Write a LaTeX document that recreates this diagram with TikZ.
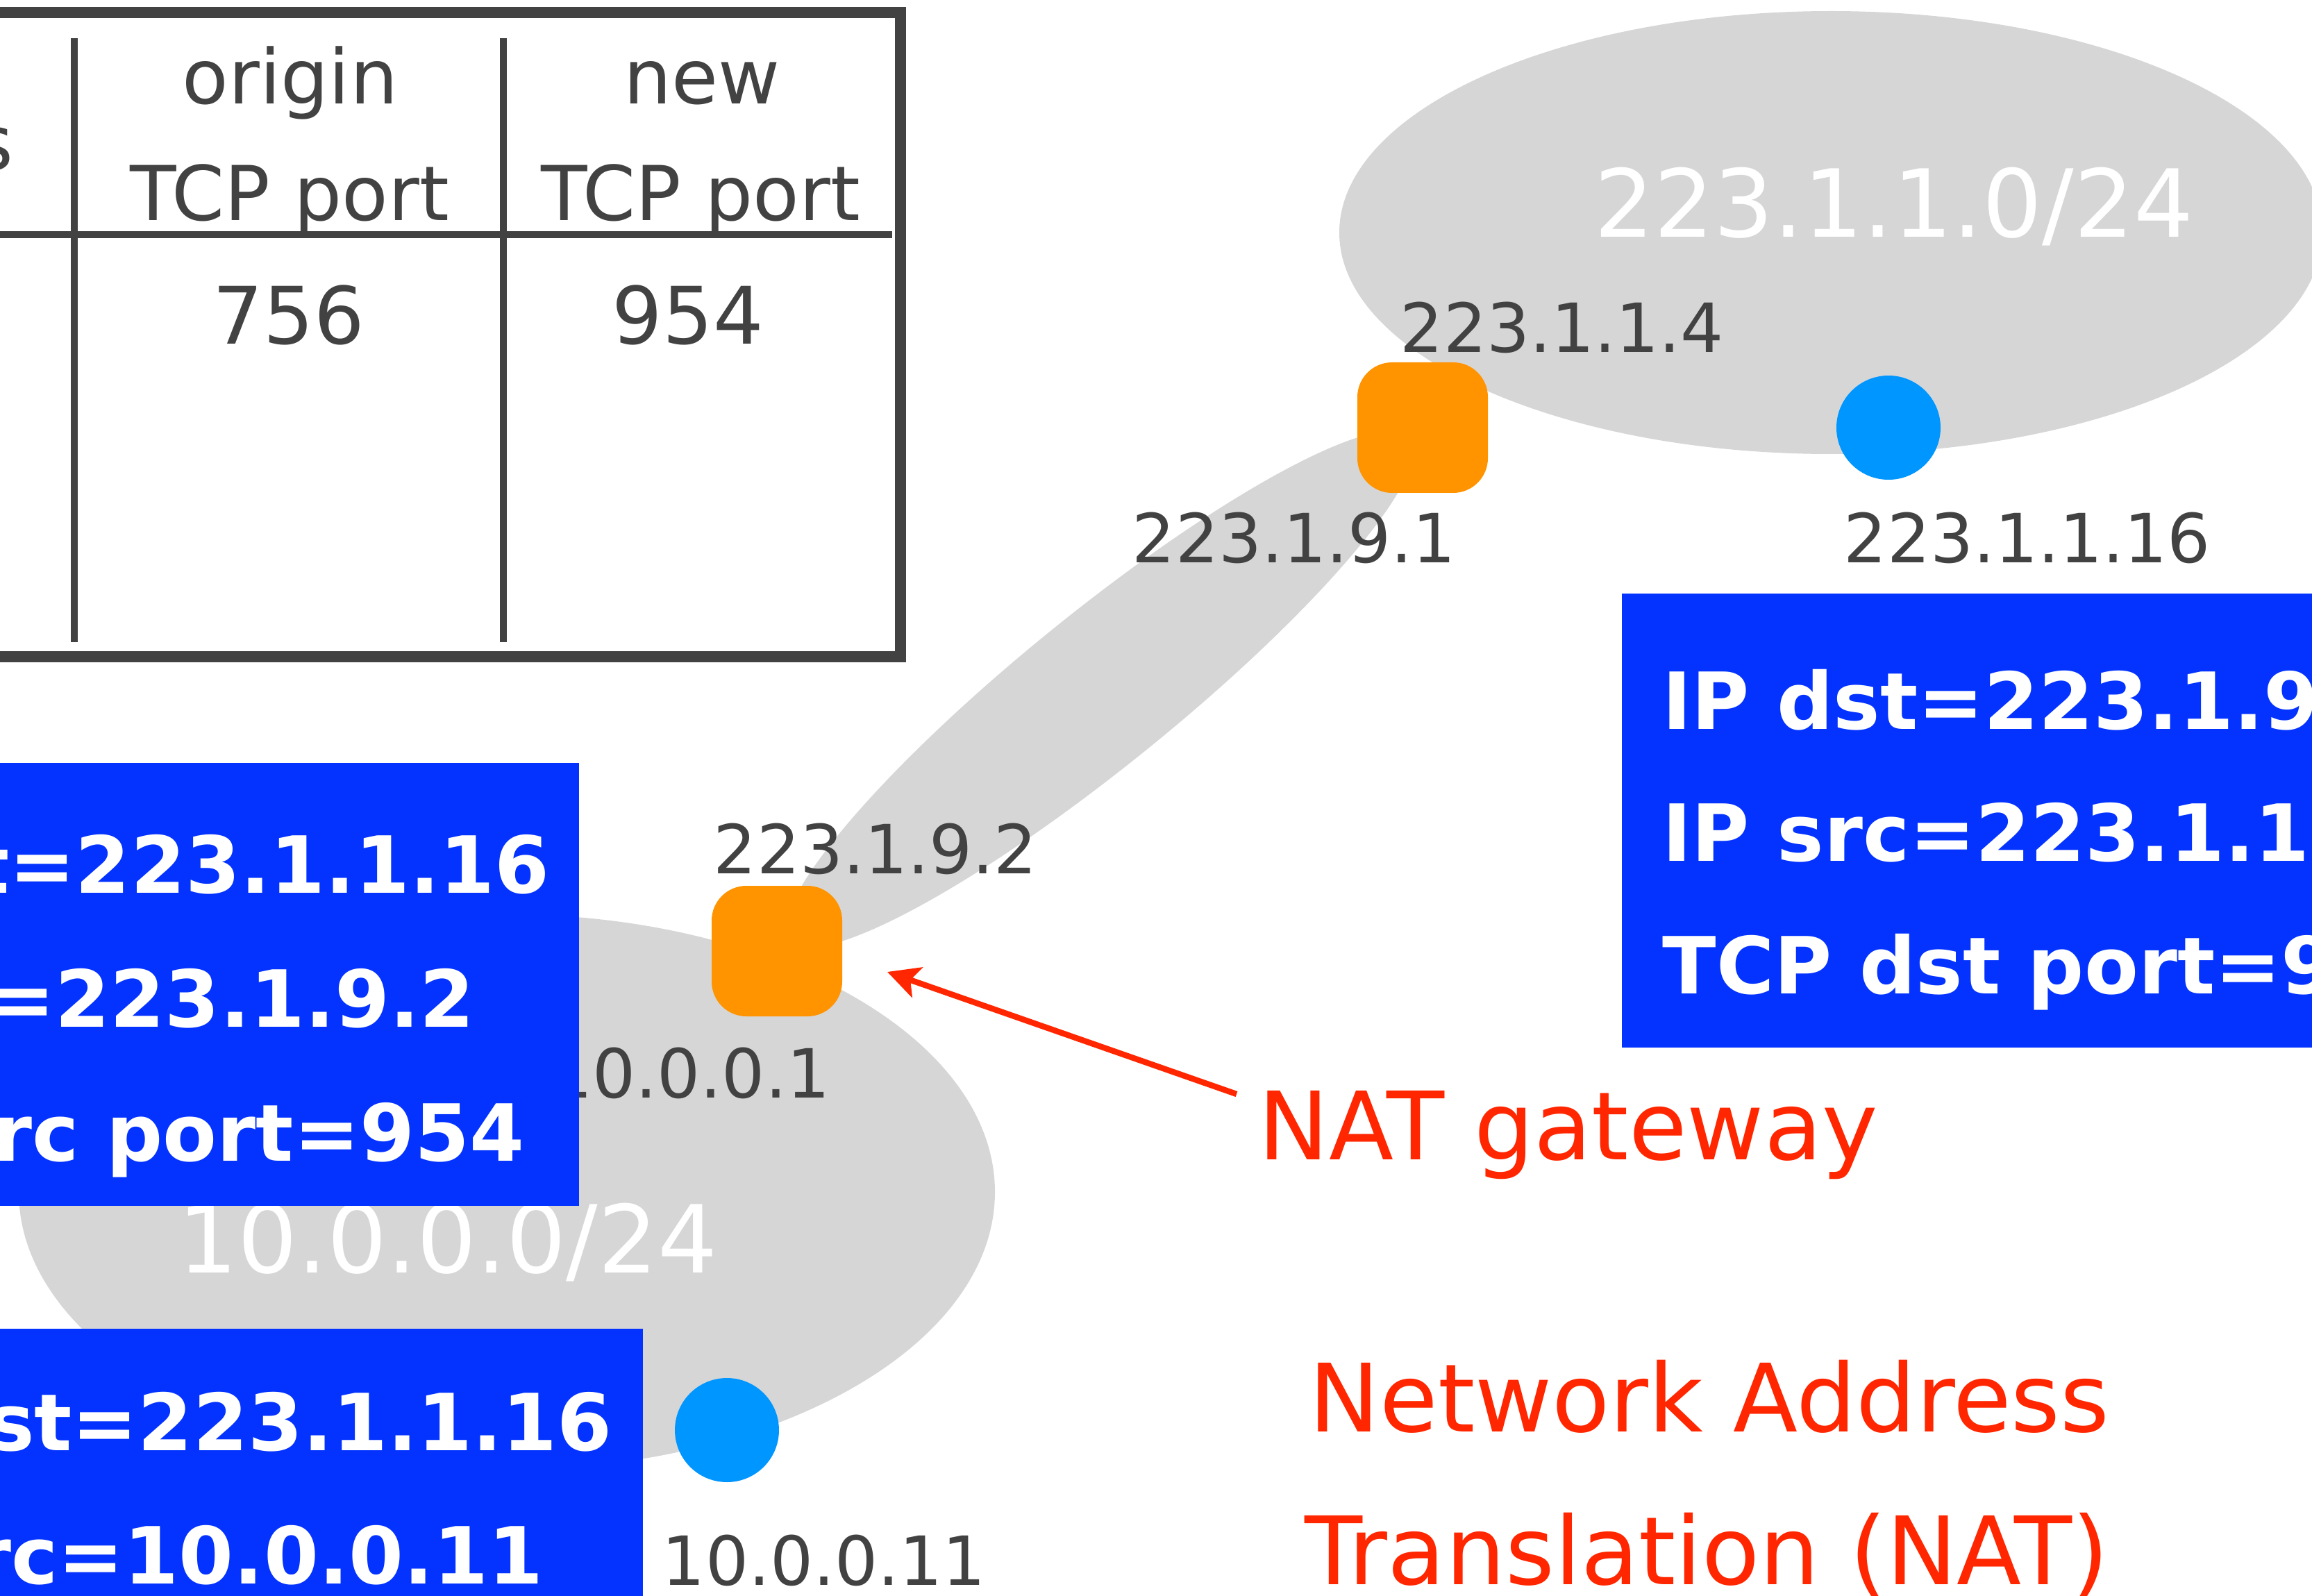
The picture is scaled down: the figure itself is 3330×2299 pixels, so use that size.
\documentclass[tikz,border=0pt]{standalone}
\usepackage{fontspec}
\setmainfont{DejaVu Sans}
\usetikzlibrary{arrows.meta}
\definecolor{netgray}{HTML}{D6D6D6}
\definecolor{ink}{HTML}{424242}
\definecolor{routerorange}{HTML}{FF9300}
\definecolor{hostblue}{HTML}{0096FF}
\definecolor{pktblue}{HTML}{0433FF}
\definecolor{notered}{HTML}{FF2600}

\begin{document}
\begin{tikzpicture}[x=0.1mm, y=-0.1mm,
  subnet/.style={fill=netgray},
  router/.style={rectangle, fill=routerorange, rounded corners=5mm, minimum size=18.8mm, inner sep=0},
  host/.style={circle, fill=hostblue, minimum size=15mm, inner sep=0},
  iplabel/.style={text=ink, inner sep=0, font=\fontsize{27.8pt}{33pt}\selectfont},
  netname/.style={text=white, inner sep=0, font=\fontsize{38.5pt}{46pt}\selectfont},
  pktbox/.style={fill=pktblue},
  pkttext/.style={text=white, inner sep=0, font=\bfseries\fontsize{32.3pt}{38pt}\selectfont},
  tabletext/.style={text=ink, inner sep=0, font=\fontsize{31pt}{37pt}\selectfont},
  tablenum/.style={text=ink, inner sep=0, font=\fontsize{32.5pt}{39pt}\selectfont},
  notetext/.style={text=notered, inner sep=0, font=\fontsize{38.7pt}{46pt}\selectfont},
  pointer/.style={draw=notered, line width=2.4pt, -{Stealth[length=13pt, width=13pt, inset=3pt]}}
]
\useasboundingbox (0,0) rectangle (3330,2299);
\clip (0,0) rectangle (3330,2299);

% subnets and the link between the two routers
\fill[subnet] (2637,335) ellipse [x radius=708, y radius=319];
\fill[subnet] (730,1717) ellipse [x radius=703, y radius=400];
\fill[subnet, rotate around={39:(1584,993)}] (1584,993) ellipse [x radius=575, y radius=110];

\node[netname, anchor=base] (netA) at (2728,342) {223.1.1.0/24};
\node[netname, anchor=base] (netB) at (645,1833) {10.0.0.0/24};

% routers and hosts
\node[router] (gwpub) at (2049,616) {};
\node[router] (gwnat) at (1119,1370) {};
\node[host] (hpub) at (2720,616) {};
\node[host] (hpriv) at (1047,2060) {};

% interface addresses
\node[iplabel, anchor=base] (ip114) at (2250,508) {223.1.1.4};
\node[iplabel, anchor=base] (ip191) at (1864,810) {223.1.9.1};
\node[iplabel, anchor=base] (ip1116) at (2920,810) {223.1.1.16};
\node[iplabel, anchor=base] (ip192) at (1261,1258) {223.1.9.2};
\node[iplabel, anchor=base east] (ip1001) at (1196,1581) {10.0.0.1};
\node[iplabel, anchor=base] (ip10011) at (1187,2283) {10.0.0.11};

% packet headers
\fill[pktbox] (-60,1099) rectangle (834,1737);
\node[pkttext, anchor=base east] (pa1) at (792,1286) {IP dst=223.1.1.16};
\node[pkttext, anchor=base east] (pa2) at (684,1479) {IP src=223.1.9.2};
\node[pkttext, anchor=base east] (pa3) at (756,1672) {TCP src port=954};

\fill[pktbox] (-60,1914) rectangle (926,2360);
\node[pkttext, anchor=base east] (pb1) at (882,2089) {IP dst=223.1.1.16};
\node[pkttext, anchor=base east] (pb2) at (783,2281) {IP src=10.0.0.11};

\fill[pktbox] (2336,855) rectangle (3400,1509);
\node[pkttext, anchor=base west] (pc1) at (2394,1050) {IP dst=223.1.9.2};
\node[pkttext, anchor=base west] (pc2) at (2394,1240) {IP src=223.1.1.16};
\node[pkttext, anchor=base west] (pc3) at (2394,1431) {TCP dst port=954};

% translation table
\draw[ink, line width=4.6pt] (-60,18) rectangle (1297,946);
\draw[ink, line width=2.8pt] (107,55) -- (107,925);
\draw[ink, line width=2.8pt] (725,55) -- (725,925);
\draw[ink, line width=2.6pt] (-10,338) -- (1285,338);
\node[tabletext, anchor=base east] (hdaddr) at (20,245) {address};
\node[tabletext, anchor=base] (hdorig) at (418,150) {origin};
\node[tabletext, anchor=base] (hdorig2) at (417,318) {TCP port};
\node[tabletext, anchor=base] (hdnew) at (1011,150) {new};
\node[tabletext, anchor=base] (hdnew2) at (1009,318) {TCP port};
\node[tablenum, anchor=base] (vorig) at (416,496) {756};
\node[tablenum, anchor=base] (vnew) at (991,496) {954};

% notes
\node[notetext, anchor=base west] (natgw) at (1812,1670) {NAT gateway};
\node[notetext, anchor=base west] (title1) at (1885,2062) {Network Address};
\node[notetext, anchor=base west] (title2) at (1879,2282) {Translation (NAT)};
\coordinate (pointfrom) at (1781,1576);
\coordinate (pointto) at (1278,1400);
\draw[pointer] (pointfrom) -- (pointto);
\end{tikzpicture}
\end{document}
